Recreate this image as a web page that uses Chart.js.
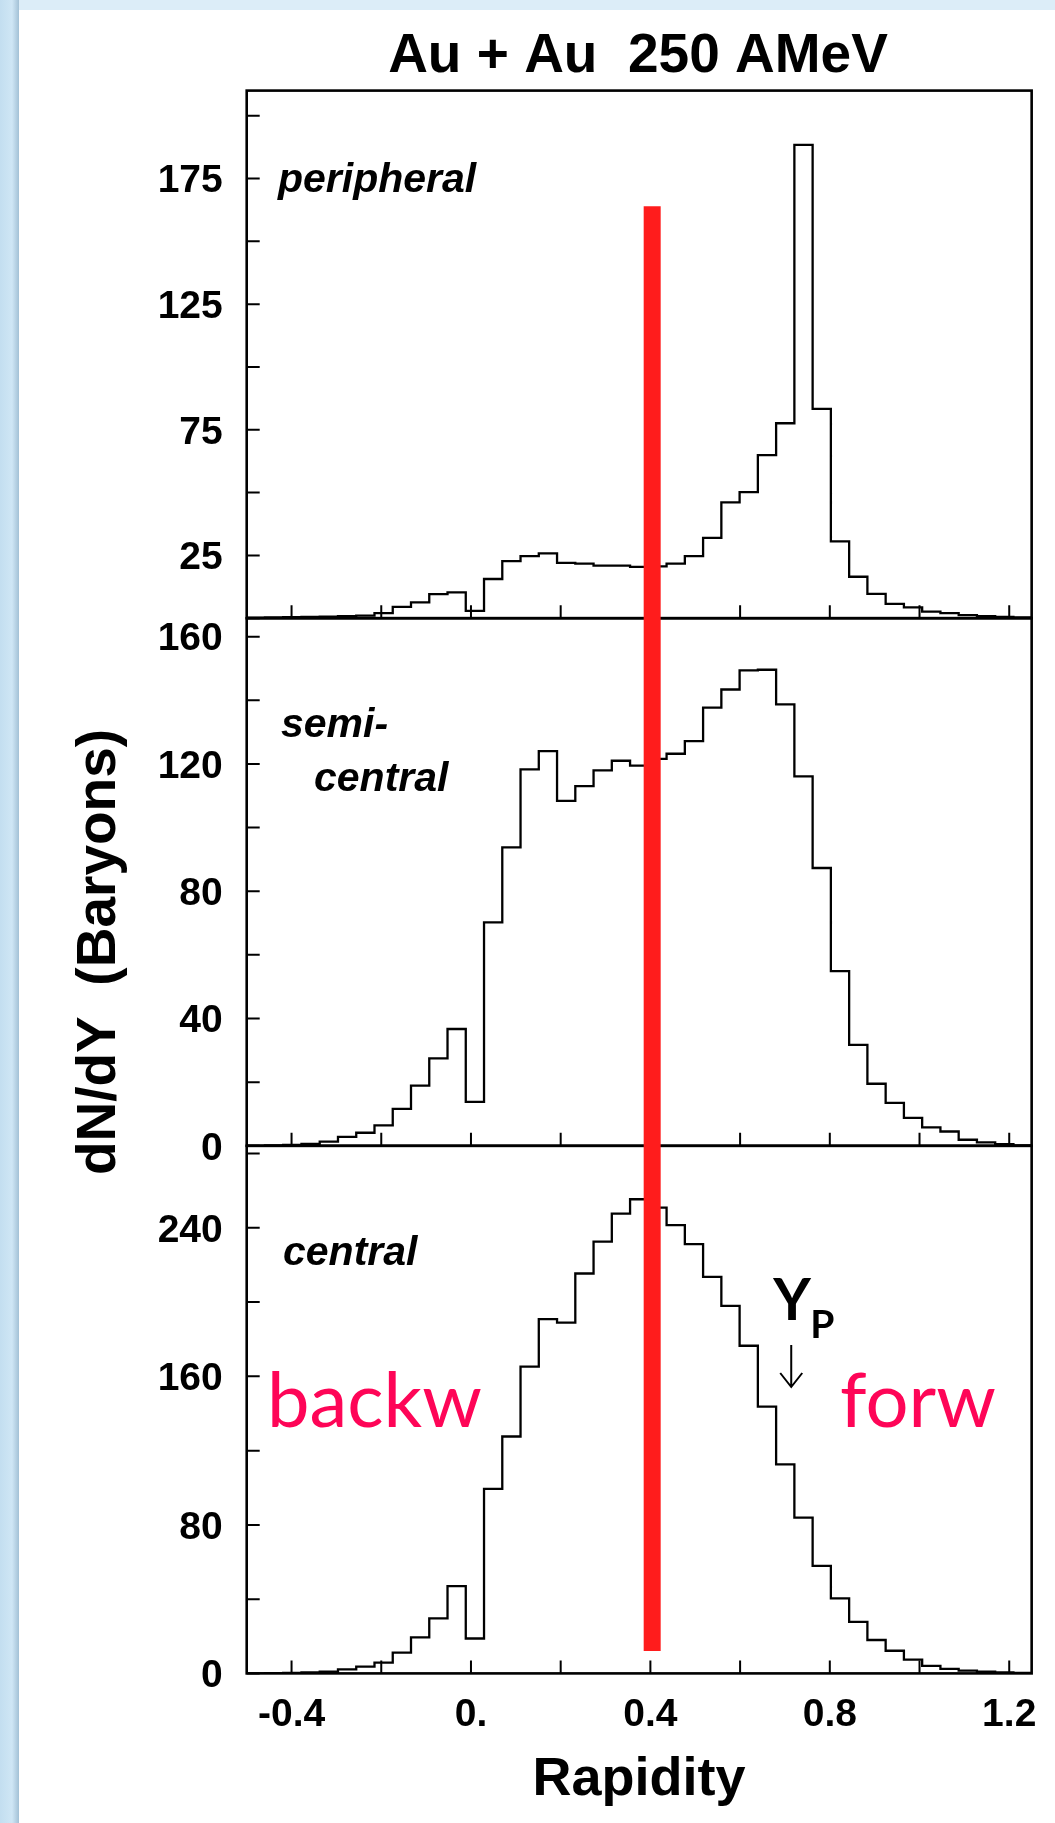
<!DOCTYPE html>
<html>
<head>
<meta charset="utf-8">
<title>Au + Au 250 AMeV - dN/dY</title>
<script src="https://cdn.jsdelivr.net/npm/chart.js@4.4.1/dist/chart.umd.min.js"></script>
<style>
    html, body { margin: 0; padding: 0; }
    body {
        width: 1055px; height: 1823px; position: relative; overflow: hidden;
        background: linear-gradient(to right, #c3def0 0px, #cfe6f5 12px, #a3c1d6 19px, #dcedf8 19px);
    }
    #sheet { position: absolute; left: 19px; top: 10px; right: 0; bottom: 0; background: #fff; }
    #rapidityChart { position: absolute; left: 0; top: 0; }
</style>
</head>
<body>
<div id="sheet"></div>
<canvas id="rapidityChart" width="1055" height="1823"></canvas>
<script>
// histogram binning (43 equal bins over the rapidity range)
const BIN_START = -0.5;
const BIN_WIDTH = 0.0407;

// dN/dY per bin
const peripheral = [0.2, 0.3, 0.4, 0.5, 0.6, 0.8, 1.0, 2.0, 4.5, 6.3, 9.6, 10.3, 2.9, 15.6, 22.7, 24.7, 25.8, 22.0, 21.7, 20.9, 20.9, 20.4,
    20.6, 21.7, 24.7, 32.0, 46.1, 50.2, 64.9, 77.6, 188.4, 83.3, 30.6, 16.5, 9.7, 5.7, 4.3, 2.6, 2.0, 1.2, 0.8, 0.5, 0.3];
const semiCentral = [0, 0.1, 0.3, 0.6, 1.3, 2.8, 4.1, 6.4, 11.6, 18.9, 27.5, 36.7, 13.8, 70.2, 93.8, 118.3, 124.0, 108.4, 113.0, 118.0, 121.0, 119.5,
    121.6, 123.2, 127.2, 137.7, 143.4, 149.4, 149.6, 138.7, 116.1, 87.3, 54.9, 31.7, 19.5, 13.5, 8.8, 5.8, 4.5, 1.9, 1.1, 0.5, 0.1];
const central = [0, 0.2, 0.3, 0.5, 0.9, 2.2, 3.6, 5.8, 11.2, 19.4, 29.6, 47.0, 18.8, 99.4, 127.6, 165.2, 190.8, 189.0, 215.4, 232.6, 247.7, 255.4,
    250.9, 241.5, 231.2, 213.6, 198.0, 176.5, 143.7, 112.6, 83.9, 57.9, 40.4, 27.8, 18.0, 12.2, 7.4, 4.0, 2.4, 1.5, 0.9, 0.6, 0.3];

// axes
const xTickValues = [-0.4, -0.2, 0, 0.2, 0.4, 0.6, 0.8, 1.0, 1.2];
const xLabelValues = [-0.4, 0, 0.4, 0.8, 1.2];
const xLabelText = ['-0.4', '0.', '0.4', '0.8', '1.2'];

const periTicks = [0, 25, 50, 75, 100, 125, 150, 175, 200];
const periLabels = [25, 75, 125, 175];
const semiTicks = [0, 20, 40, 60, 80, 100, 120, 140, 160];
const semiLabels = [0, 40, 80, 120, 160];
const centTicks = [0, 40, 80, 120, 160, 200, 240, 280];
const centLabels = [0, 80, 160, 240];

// marks drawn on top of the figure
const redMarkX = 0.404;
const redMarkTop = 164;    // on the peripheral scale
const redMarkBottom = 12;  // on the central scale
const beamRapidity = 0.714;

const FONT = "'Liberation Sans', Arial, Helvetica, sans-serif";
const TICK_FONT = { family: FONT, size: 39, weight: 'bold' };

const panels = [
    { axis: 'yPer', ticks: periTicks },
    { axis: 'ySemi', ticks: semiTicks },
    { axis: 'yCen', ticks: centTicks }
];

function histogramPoints(values) {
    const pts = [];
    values.forEach((v, i) => {
        const lo = BIN_START + i * BIN_WIDTH;
        pts.push({ x: lo, y: v }, { x: lo + BIN_WIDTH, y: v });
    });
    return pts;
}

function panelAxis(max, ticks, labels, weight) {
    return {
        type: 'linear',
        position: 'left',
        stack: 'panels',
        stackWeight: 1,
        weight: weight,
        min: 0,
        max: max,
        grid: { display: false, drawTicks: false },
        border: { display: false },
        afterBuildTicks: (axis) => { axis.ticks = ticks.map(v => ({ value: v })); },
        afterFit: (axis) => { axis.width = 246.7; },
        ticks: {
            autoSkip: false,
            padding: 24,
            labelOffset: 3,
            color: '#000',
            font: TICK_FONT,
            callback: (v) => labels.includes(v) ? String(v) : ''
        }
    };
}

function histogramSet(values, axisId) {
    return {
        data: histogramPoints(values),
        yAxisID: axisId,
        borderColor: '#000',
        borderWidth: 2.3,
        pointRadius: 0,
        tension: 0,
        fill: false
    };
}

// frame, panel dividers and inward tick marks
const framePlugin = {
    id: 'frame',
    afterDatasetsDraw(chart) {
        const { ctx, chartArea: area, scales } = chart;
        ctx.save();
        ctx.strokeStyle = '#000';
        panels.forEach(p => {
            const s = scales[p.axis];
            ctx.lineWidth = 2.6;
            ctx.strokeRect(area.left, s.top, area.right - area.left, s.bottom - s.top);
            ctx.lineWidth = 2;
            ctx.beginPath();
            p.ticks.forEach(v => {
                const y = s.getPixelForValue(v);
                ctx.moveTo(area.left, y);
                ctx.lineTo(area.left + 13, y);
            });
            xTickValues.forEach(v => {
                const x = scales.x.getPixelForValue(v);
                ctx.moveTo(x, s.bottom);
                ctx.lineTo(x, s.bottom - 13);
            });
            ctx.stroke();
        });
        ctx.restore();
    }
};

// red marker line, titles and hand-written notes
const notesPlugin = {
    id: 'notes',
    afterDraw(chart) {
        const { ctx, scales } = chart;
        ctx.save();

        // red marker across the three panels
        const rx = scales.x.getPixelForValue(redMarkX);
        ctx.strokeStyle = 'rgb(255, 28, 28)';
        ctx.lineWidth = 17;
        ctx.beginPath();
        ctx.moveTo(rx, scales.yPer.getPixelForValue(redMarkTop));
        ctx.lineTo(rx, scales.yCen.getPixelForValue(redMarkBottom));
        ctx.stroke();

        ctx.fillStyle = '#000';
        ctx.textBaseline = 'alphabetic';

        ctx.textAlign = 'center';
        ctx.font = `bold 55px ${FONT}`;
        ctx.fillText('Au + Au  250 AMeV', 638, 72);

        ctx.font = `bold 54px ${FONT}`;
        ctx.fillText('Rapidity', 639, 1795);

        ctx.save();
        ctx.translate(115, 952);
        ctx.rotate(-Math.PI / 2);
        ctx.font = `bold 55px ${FONT}`;
        ctx.fillText('dN/dY  (Baryons)', 0, 0);
        ctx.restore();

        ctx.textAlign = 'left';
        ctx.font = `italic bold 41px ${FONT}`;
        ctx.fillText('peripheral', 278, 192);
        ctx.fillText('semi-', 281, 737);
        ctx.fillText('central', 314, 791);
        ctx.fillText('central', 283, 1265);

        // projectile rapidity
        const yp = scales.x.getPixelForValue(beamRapidity);
        ctx.font = "bold 58px Lato, 'Noto Sans', sans-serif";
        ctx.fillText('Y', yp - 18, 1320);
        ctx.font = "bold 39px Lato, 'Noto Sans', sans-serif";
        ctx.fillText('P', yp + 19, 1338);
        ctx.strokeStyle = '#000';
        ctx.lineWidth = 2;
        ctx.beginPath();
        ctx.moveTo(yp, 1345);
        ctx.lineTo(yp, 1387);
        ctx.moveTo(yp - 11, 1373);
        ctx.lineTo(yp, 1387);
        ctx.lineTo(yp + 11, 1373);
        ctx.stroke();

        ctx.fillStyle = '#fe0557';
        ctx.font = "76px Lato, 'Noto Sans', sans-serif";
        ctx.fillText('backw', 267, 1427);
        ctx.fillText('forw', 840, 1427);

        ctx.restore();
    }
};

function initRapidityChart() {
    const ctx = document.getElementById('rapidityChart')?.getContext('2d');
    if (!ctx) return;

    window.rapidityChart = new Chart(ctx, {
        type: 'line',
        data: {
            datasets: [
                histogramSet(peripheral, 'yPer'),
                histogramSet(semiCentral, 'ySemi'),
                histogramSet(central, 'yCen')
            ]
        },
        options: {
            responsive: false,
            animation: false,
            devicePixelRatio: 1,
            layout: { padding: { top: 90.6, right: 23.3, bottom: 0, left: 0 } },
            plugins: { legend: { display: false }, tooltip: { enabled: false } },
            scales: {
                x: {
                    type: 'linear',
                    min: -0.5,
                    max: 1.25,
                    grid: { display: false, drawTicks: false },
                    border: { display: false },
                    afterBuildTicks: (axis) => { axis.ticks = xTickValues.map(v => ({ value: v })); },
                    afterFit: (axis) => { axis.height = 149.6; },
                    ticks: {
                        autoSkip: false,
                        maxRotation: 0,
                        minRotation: 0,
                        padding: 18,
                        color: '#000',
                        font: TICK_FONT,
                        callback: (v) => {
                            const k = xLabelValues.indexOf(v);
                            return k >= 0 ? xLabelText[k] : '';
                        }
                    }
                },
                yPer: panelAxis(210, periTicks, periLabels, 3),
                ySemi: panelAxis(165.8, semiTicks, semiLabels, 2),
                yCen: panelAxis(284.2, centTicks, centLabels, 1)
            }
        },
        plugins: [framePlugin, notesPlugin]
    });
}

initRapidityChart();
</script>
</body>
</html>
